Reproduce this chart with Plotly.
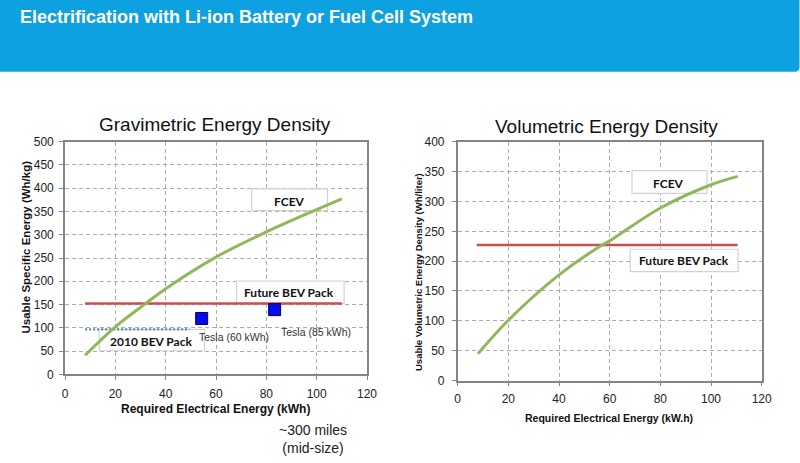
import plotly.graph_objects as go

# ---------------- data ----------------
grav_fcev_x = [8, 20, 32, 40, 60, 80, 100, 110]
grav_fcev_y = [41, 102, 152, 184, 252, 306, 354, 377]
grav_future_x = [8, 110]
grav_future_y = [152, 152]
grav_2010_x = [8, 49.5]
grav_2010_y = [96.5, 96.5]
tesla_x = [54.3, 83.3]
tesla_y = [120, 139]
tesla_labels = ["Tesla (60 kWh)", "Tesla (85 kWh)"]

vol_fcev_x = [8, 20, 40, 57, 60, 80, 100, 110.5]
vol_fcev_y = [45, 101, 177, 227, 234, 289, 328, 342]
vol_future_x = [7.5, 110.5]
vol_future_y = [227, 227]

x_ticks = [0, 20, 40, 60, 80, 100, 120]
grav_y_ticks = [0, 50, 100, 150, 200, 250, 300, 350, 400, 450, 500]
vol_y_ticks = [0, 50, 100, 150, 200, 250, 300, 350, 400]

W, H = 800, 463
def px(x):
    return x / W
def py(y):
    return 1 - y / H

GREEN = "#8fb85a"
RED = "#c9504f"
BLUE_DOT = "#5584c2"
FRAME = "#858585"
GRID = "#acacac"
TICKFONT = dict(family="Liberation Sans, Arial", size=12, color="#222")

fig = go.Figure()

# left chart traces
fig.add_trace(go.Scatter(x=grav_2010_x, y=grav_2010_y, mode="lines",
                         line=dict(color=BLUE_DOT, width=2.2, dash="2px,2px"),
                         xaxis="x", yaxis="y", showlegend=False))
fig.add_trace(go.Scatter(x=grav_future_x, y=grav_future_y, mode="lines",
                         line=dict(color=RED, width=2.5),
                         xaxis="x", yaxis="y", showlegend=False))
fig.add_trace(go.Scatter(x=grav_fcev_x, y=grav_fcev_y, mode="lines",
                         line=dict(color=GREEN, width=3, shape="spline"),
                         xaxis="x", yaxis="y", showlegend=False))
fig.add_trace(go.Scatter(x=tesla_x, y=tesla_y, mode="markers",
                         marker=dict(symbol="square", size=12, color="#0a0aee",
                                     line=dict(color="#00006a", width=1)),
                         xaxis="x", yaxis="y", showlegend=False))

# right chart traces
fig.add_trace(go.Scatter(x=vol_future_x, y=vol_future_y, mode="lines",
                         line=dict(color=RED, width=2.5),
                         xaxis="x2", yaxis="y2", showlegend=False))
fig.add_trace(go.Scatter(x=vol_fcev_x, y=vol_fcev_y, mode="lines",
                         line=dict(color=GREEN, width=3, shape="spline"),
                         xaxis="x2", yaxis="y2", showlegend=False))

axis_common = dict(showline=True, linecolor=FRAME, linewidth=1.6, mirror=True,
                   ticks="outside", ticklen=4, tickcolor=FRAME,
                   showgrid=True, gridcolor=GRID, griddash="4px,3px", gridwidth=1,
                   zeroline=False, tickfont=TICKFONT)

fig.update_layout(
    autosize=True,
    margin=dict(l=0, r=0, t=0, b=0, autoexpand=False),
    paper_bgcolor="white", plot_bgcolor="white",
    xaxis=dict(domain=[px(65), px(367)], range=[0, 120], tickvals=x_ticks,
               anchor="y", ticklabelstandoff=3, **axis_common),
    yaxis=dict(domain=[py(374.3), py(141.7)], range=[0, 500], tickvals=grav_y_ticks,
               anchor="x", ticklabelstandoff=3, **axis_common),
    xaxis2=dict(domain=[px(457.7), px(761.7)], range=[0, 120], tickvals=x_ticks,
                anchor="y2", ticklabelstandoff=2, **axis_common),
    yaxis2=dict(domain=[py(380.5), py(141.8)], range=[0, 400], tickvals=vol_y_ticks,
                anchor="x2", ticklabelstandoff=5, **axis_common),
)

shapes = []
# banner
b = py(71.7)
shapes.append(dict(type="path", xref="paper", yref="paper",
                   path=f"M 0 1 L {px(799.5)} 1 L {px(799.5)} {py(67)} Q {px(799.5)} {b} {px(795)} {b} L 0 {b} Z",
                   fillcolor="#0ea1e1", line=dict(width=0), layer="above"))

def box(xr, yr, x0, x1, y0, y1):
    return dict(type="rect", xref=xr, yref=yr, x0=x0, x1=x1, y0=y0, y1=y1,
                fillcolor="white", line=dict(color="#d2d2d2", width=1.2), layer="between")

shapes.append(box("x", "y", 74.2, 104.3, 352, 398.6))
shapes.append(box("x", "y", 68.2, 110.9, 152.5, 200.6))
shapes.append(box("x", "y", 13.6, 55.4, 50.6, 96.4))
shapes.append(box("x2", "y2", 68.8, 98.4, 313.7, 351.6))
shapes.append(box("x2", "y2", 68.1, 110.7, 182.3, 219.9))
fig.update_layout(shapes=shapes)

LBL = dict(family="Lato, Carlito, Liberation Sans", size=12, color="#111")
ann = []
def lab(text, xr, yr, x, y, font, **kw):
    d = dict(text=text, xref=xr, yref=yr, x=x, y=y, showarrow=False, font=font,
             xanchor="center", yanchor="middle")
    d.update(kw)
    ann.append(d)

lab("<b>FCEV</b>", "x", "y", 89.1, 372, LBL)
lab("<b>Future BEV Pack</b>", "x", "y", 89.1, 175, LBL)
lab("<b>2010 BEV Pack</b>", "x", "y", 34.3, 70, LBL)
lab("<b>FCEV</b>", "x2", "y2", 83.2, 330.5, LBL)
lab("<b>Future BEV Pack</b>", "x2", "y2", 89.2, 200.8, LBL)
TES = dict(family="Liberation Sans, Arial", size=10.5, color="#333")
lab(tesla_labels[0], "x", "y", 67.3, 79.3, TES)
lab(tesla_labels[1], "x", "y", 99.9, 91.3, TES)

# titles
lab("Gravimetric Energy Density", "paper", "paper", px(214.5), py(125),
    dict(family="Liberation Sans, Arial", size=19, color="#111"))
lab("Volumetric Energy Density", "paper", "paper", px(606), py(127),
    dict(family="Liberation Sans, Arial", size=19, color="#111"))
lab("<b>Usable Specific Energy (Wh/kg)</b>", "paper", "paper", px(25), py(247.5),
    dict(family="Liberation Sans, Arial", size=11.5, color="#111"), textangle=-90)
lab("<b>Usable Volumetric Energy Density (Wh/liter)</b>", "paper", "paper", px(418), py(272),
    dict(family="Liberation Sans, Arial", size=9.5, color="#111"), textangle=-90)
lab("<b>Required Electrical Energy (kWh)</b>", "paper", "paper", px(215), py(409),
    dict(family="Liberation Sans, Arial", size=12, color="#111"))
lab("<b>Required Electrical Energy (kW.h)</b>", "paper", "paper", px(609), py(417.7),
    dict(family="Liberation Sans, Arial", size=10.5, color="#111"))
lab("~300 miles<br>(mid-size)", "paper", "paper", px(313), py(438.5),
    dict(family="Liberation Sans, Arial", size=14, color="#222"))
lab("<b>Electrification with Li-ion Battery or Fuel Cell System</b>", "paper", "paper",
    px(18), py(16.5), dict(family="Liberation Sans, Arial", size=18, color="white"),
    xanchor="left")
fig.update_layout(annotations=ann)

post = (
    "var de=document.documentElement, bd=document.body;"
    "de.style.margin='0'; de.style.height='100%'; de.style.overflow='hidden';"
    "bd.style.margin='0'; bd.style.height='100%'; bd.style.overflow='hidden';"
    "var gd=document.getElementById('{plot_id}');"
    "if(gd.parentElement){gd.parentElement.style.height='100%';gd.parentElement.style.width='100%';}"
    "gd.style.height='100%'; gd.style.width='100%';"
    "Plotly.Plots.resize(gd);"
)

fig.write_html(
    "out.html",
    default_width="100%",
    default_height="100%",
    config={"displayModeBar": False, "responsive": True},
    post_script=post,
)
